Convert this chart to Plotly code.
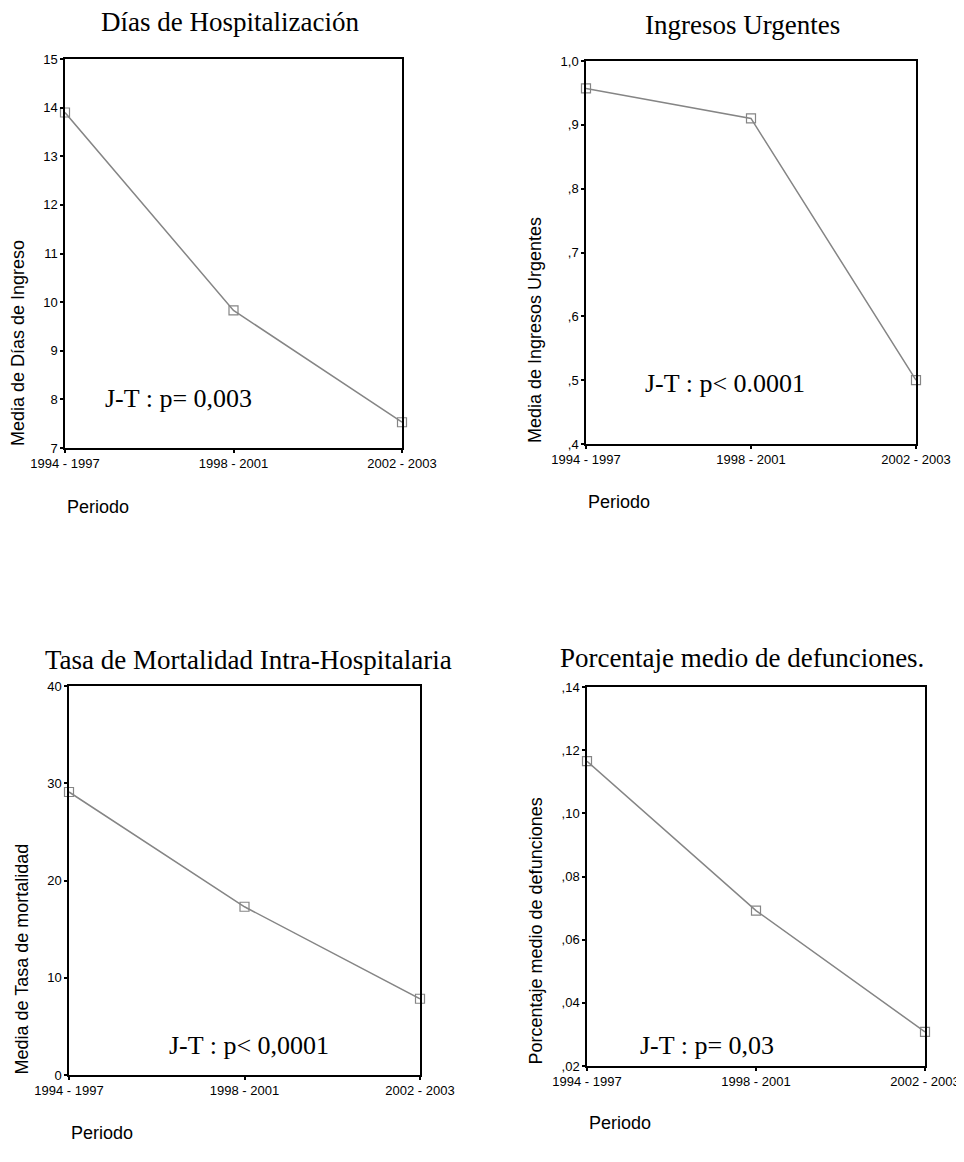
import plotly.graph_objects as go

# The page body adds an 8px margin, so the figure is drawn 8px in from the
# window corner; all positions below are window pixels shifted by that offset.
OFF = 8
W, H = 954, 1146

periods = ["1994 - 1997", "1998 - 2001", "2002 - 2003"]

dias_ingreso = [13.9, 9.83, 7.53]
ingresos_urgentes = [0.957, 0.910, 0.500]
tasa_mortalidad = [29.1, 17.3, 7.84]
porc_defunciones = [0.1165, 0.0692, 0.0308]

y1_ticks = [7, 8, 9, 10, 11, 12, 13, 14, 15]
y1_text = ["7", "8", "9", "10", "11", "12", "13", "14", "15"]
y2_ticks = [0.4, 0.5, 0.6, 0.7, 0.8, 0.9, 1.0]
y2_text = [",4", ",5", ",6", ",7", ",8", ",9", "1,0"]
y3_ticks = [0, 10, 20, 30, 40]
y3_text = ["0", "10", "20", "30", "40"]
y4_ticks = [0.02, 0.04, 0.06, 0.08, 0.10, 0.12, 0.14]
y4_text = [",02", ",04", ",06", ",08", ",10", ",12", ",14"]

titles = ["Días de Hospitalización", "Ingresos Urgentes",
          "Tasa de Mortalidad Intra-Hospitalaria", "Porcentaje medio de defunciones."]
ylabels = ["Media de Días de Ingreso", "Media de Ingresos Urgentes",
           "Media de Tasa de mortalidad", "Porcentaje medio de defunciones"]
jt_texts = ["J-T : p= 0,003", "J-T : p< 0.0001", "J-T : p< 0,0001", "J-T : p= 0,03"]
xlabel = "Periodo"

series = [dias_ingreso, ingresos_urgentes, tasa_mortalidad, porc_defunciones]
yticks = [(y1_ticks, y1_text), (y2_ticks, y2_text), (y3_ticks, y3_text), (y4_ticks, y4_text)]

# layout geometry in window pixels: (left, right, top, bottom)
boxes = [(65, 402, 59, 448), (586, 916, 61, 444), (69, 420, 686, 1075), (587, 925, 687, 1066)]
title_pos = [(230, 22), (742, 25), (248, 660), (742, 658)]
ylab_pos = [(18, 448), (535, 445), (21, 1077), (535, 1067)]
xlab_pos = [(65, 507), (586, 502), (69, 1133), (587, 1123)]
jt_pos = [(103, 398), (643, 383), (167, 1045), (638, 1045)]


def px(x):
    return (x - OFF) / W


def py(y):
    return 1 - (y - OFF) / H


fig = go.Figure()
annotations = []
SANS = "Liberation Sans, Arial, sans-serif"
SERIF = "Liberation Serif, Times New Roman, serif"

for i in range(4):
    n = "" if i == 0 else str(i + 1)
    l, r, t, b = boxes[i]
    tv, tt = yticks[i]
    fig.add_trace(go.Scatter(
        x=periods, y=series[i], mode="lines+markers",
        line=dict(color="#858585", width=1.5),
        marker=dict(symbol="square-open", size=9, color="#858585", line=dict(width=1.2)),
        cliponaxis=False, showlegend=False,
        xaxis="x" + n, yaxis="y" + n,
    ))
    axis_common = dict(showline=True, linecolor="black", linewidth=1.5, mirror=True,
                       showgrid=False, zeroline=False, ticks="outside", ticklen=3,
                       tickwidth=2, tickcolor="black", automargin=False,
                       tickfont=dict(family=SANS, size=13, color="black"))
    fig.update_layout(**{
        "xaxis" + n: dict(domain=[px(l), px(r)], anchor="y" + n, type="category",
                          categoryorder="array", categoryarray=periods,
                          range=[0, 2], **axis_common),
        "yaxis" + n: dict(domain=[py(b), py(t)], anchor="x" + n,
                          range=[tv[0], tv[-1]], tickvals=tv, ticktext=tt, **axis_common),
    })
    annotations.append(dict(x=px(title_pos[i][0]), y=py(title_pos[i][1]), xref="paper", yref="paper",
                            text=titles[i], showarrow=False, xanchor="center", yanchor="middle",
                            font=dict(family=SERIF, size=27, color="black")))
    annotations.append(dict(x=px(ylab_pos[i][0]), y=py(ylab_pos[i][1]), xref="paper", yref="paper",
                            text=ylabels[i], showarrow=False, textangle=-90,
                            xanchor="center", yanchor="bottom",
                            font=dict(family=SANS, size=18, color="black")))
    annotations.append(dict(x=px(xlab_pos[i][0]), y=py(xlab_pos[i][1]), xref="paper", yref="paper",
                            text=xlabel, showarrow=False, xanchor="left", yanchor="middle",
                            font=dict(family=SANS, size=18, color="black")))
    annotations.append(dict(x=px(jt_pos[i][0]), y=py(jt_pos[i][1]), xref="paper", yref="paper",
                            text=jt_texts[i], showarrow=False, xanchor="left", yanchor="middle",
                            font=dict(family=SERIF, size=26, color="black")))

fig.update_layout(width=W, height=H, margin=dict(l=0, r=0, t=0, b=0, autoexpand=False),
                  paper_bgcolor="white", plot_bgcolor="white",
                  annotations=annotations)

fig.write_html("out.html")
